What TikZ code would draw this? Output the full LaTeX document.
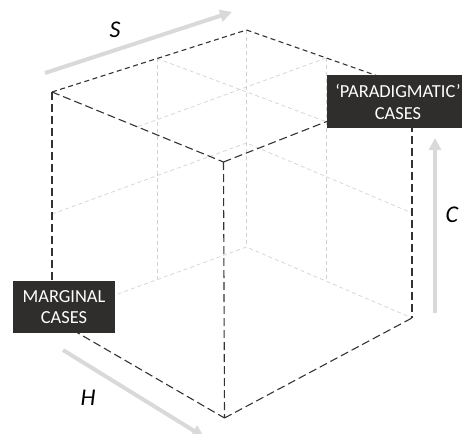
\documentclass[tikz,border=0pt]{standalone}
\usepackage{fontspec}
\setmainfont{Carlito}
\usetikzlibrary{arrows.meta}
\definecolor{boxfill}{HTML}{302D2D}
\definecolor{edgecol}{HTML}{333333}
\definecolor{hidcol}{HTML}{D2D2D2}
\definecolor{axcol}{HTML}{D9D9D9}
\begin{document}
\begin{tikzpicture}[x=1pt,y=-1pt,
  edgefront/.style={draw=edgecol, line width=1.1pt, dash pattern=on 8pt off 4pt},
  edgeback/.style={draw=edgecol, line width=1.1pt, dash pattern=on 5pt off 3.5pt},
  hidden/.style={draw=hidcol, line width=0.7pt, dash pattern=on 4pt off 3pt},
  axisarrow/.style={draw=axcol, line width=4pt, -{Triangle[length=12pt,width=12pt]}},
  casebox/.style={text=white, align=center, font=\fontsize{18.4}{21.5}\selectfont, inner sep=0pt},
  axlabel/.style={font=\fontsize{24}{28}\selectfont\itshape, inner sep=0pt}]
\useasboundingbox (0,0) rectangle (462,433);
\clip (0,0) rectangle (462,433);
% cube vertices
\coordinate (TL) at (52,92);
\coordinate (TB) at (246.5,30);
\coordinate (TR) at (412,88);
\coordinate (TF) at (223.5,162);
\coordinate (BL) at (52,318);
\coordinate (BB) at (246.5,247);
\coordinate (BR) at (412,318);
\coordinate (BF) at (224.5,418);
% mid points
\coordinate (mTLB) at (157,58.5);
\coordinate (mTBR) at (326,58);
\coordinate (mTLF) at (137,127);
\coordinate (mTFR) at (327,122);
\coordinate (mL) at (52,214);
\coordinate (mB) at (246.5,143);
\coordinate (mR) at (412,213);
\coordinate (mBLB) at (157,279);
\coordinate (mBBR) at (326,281);
% hidden / guide lines
\draw[hidden] (TB) -- (BB);
\draw[hidden] (BL) -- (BB) -- (BR);
\draw[hidden] (mTLB) -- (mBLB);
\draw[hidden] (mTBR) -- (mBBR);
\draw[hidden] (mL) -- (mB) -- (mR);
\draw[hidden] (mTLB) -- (mTFR);
\draw[hidden] (mTBR) -- (mTLF);
% visible edges
\draw[edgeback] (TL) -- (TB);
\draw[edgeback] (TB) -- (TR);
\draw[edgefront] (TL) -- (TF);
\draw[edgefront] (TF) -- (TR);
\draw[edgefront] (TL) -- (BL);
\draw[edgefront] (TF) -- (BF);
\draw[edgefront] (TR) -- (BR);
\draw[edgefront] (BL) -- (BF);
\draw[edgefront] (BF) -- (BR);
% axis arrows
\coordinate (s0) at (45,73);
\coordinate (s1) at (232,12);
\coordinate (c0) at (435,313);
\coordinate (c1) at (435,138);
\coordinate (h0) at (63,350);
\coordinate (h1) at (204,437);
\draw[axisarrow] (s0) -- (s1);
\draw[axisarrow] (c0) -- (c1);
\draw[axisarrow] (h0) -- (h1);
\node[axlabel] (S) at (115,30) {S};
\node[axlabel] (C) at (452,215) {C};
\node[axlabel] (H) at (88,398) {H};
% case boxes
\fill[boxfill] (13,281) rectangle (115,333);
\node[casebox] (marg) at (64,307) {MARGINAL\\CASES};
\fill[boxfill] (327,75) rectangle (470,128);
\node[casebox] (parad) at (398,102) {‘PARADIGMATIC’\\CASES};
\end{tikzpicture}
\end{document}
